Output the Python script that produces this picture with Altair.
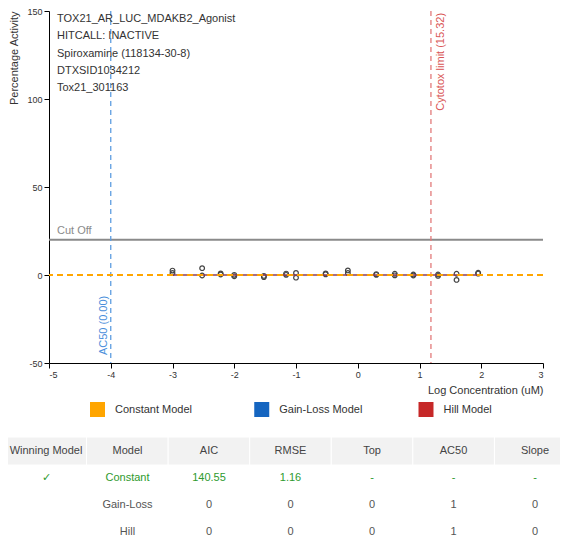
import math
import altair as alt
import pandas as pd

FONT = "Liberation Sans"

# ---------------- data ----------------
conc_levels = [-3.0, -2.52, -2.22, -2.0, -1.52, -1.16, -1.0, -0.52, -0.16,
               0.30, 0.60, 0.90, 1.30, 1.60, 1.95]
resp_rep1 = [2.5, 3.9, 0.9, 0.1, -0.5, 0.8, 1.2, 0.9, 2.6, 0.5, 0.7, 0.3, 0.3, 0.7, 1.3]
resp_rep2 = [1.1, -0.3, 0.3, -0.7, -1.2, 0.1, -1.5, 0.4, 1.1, 0.1, -0.2, -0.3, -0.5, -2.8, 0.8]

cutoff = 20
ac50_log = -4.0
cytotox_limit = 15.32
constant_level = 0.0

info_lines = ["TOX21_AR_LUC_MDAKB2_Agonist", "HITCALL: INACTIVE",
              "Spiroxamine (118134-30-8)", "DTXSID1034212", "Tox21_301163"]

legend_models = ["Constant Model", "Gain-Loss Model", "Hill Model"]
legend_colors = ["#FFA500", "#1565C0", "#C62828"]

table_columns = ["Winning Model", "Model", "AIC", "RMSE", "Top", "AC50", "Slope"]
table_rows = ["header", "Constant", "Gain-Loss", "Hill"]
row_constant = ["\u2713", "Constant", "140.55", "1.16", "-", "-", "-"]
row_gainloss = ["", "Gain-Loss", "0", "0", "0", "1", "0"]
row_hill = ["", "Hill", "0", "0", "0", "1", "0"]

# ---------------- tables ----------------
pts = pd.DataFrame({
    "conc": conc_levels + conc_levels,
    "resp": resp_rep1 + resp_rep2,
})
flat = pd.DataFrame({
    "conc": [min(conc_levels), max(conc_levels)] * 2,
    "resp": [0.0] * 4,
    "model": ["Gain-Loss", "Gain-Loss", "Hill", "Hill"],
})
one = alt.Data(values=[{}])

cells = []
for c in table_columns:
    cells.append({"col": c, "row": "header", "text": c, "tone": "header"})
for rname, vals, tone in [("Constant", row_constant, "win"),
                          ("Gain-Loss", row_gainloss, "other"),
                          ("Hill", row_hill, "other")]:
    for c, v in zip(table_columns, vals):
        cells.append({"col": c, "row": rname, "text": v, "tone": tone})
cells = pd.DataFrame(cells)

# ---------------- main plot ----------------
XS = alt.Scale(domain=[-5, 3], nice=False, zero=False)
YS = alt.Scale(domain=[-50, 150], nice=False, zero=False)
common_axis = dict(grid=False, tickSize=5, labelFontSize=9, titleFontSize=11,
                   titleFontWeight="normal", labelColor="#333", titleColor="#333",
                   domainColor="#000", tickColor="#000", labelFont=FONT,
                   titleFont=FONT, labelExpr="'' + datum.value")
x_axis = alt.Axis(values=list(range(-5, 4)), title="Log Concentration (uM)",
                  titleAnchor="end", titlePadding=5, **common_axis)
y_axis = alt.Axis(values=[-50, 0, 50, 100, 150], title="Percentage Activity",
                  titleAnchor="end", titlePadding=7, **common_axis)

X = alt.X("conc:Q", scale=XS, axis=x_axis, title="Log Concentration (uM)")
Y = alt.Y("resp:Q", scale=YS, axis=y_axis, title="Percentage Activity")

cut_rule = alt.Chart(one).mark_rule(color="#8a8a8a", strokeWidth=2).encode(
    y=alt.datum(cutoff, scale=YS))
cut_text = alt.Chart(one).mark_text(align="left", baseline="bottom", dx=8, dy=-4,
                                    fontSize=11, color="#8a8a8a", font=FONT).encode(
    x=alt.datum(-5), y=alt.datum(cutoff), text=alt.value("Cut Off"))

const_rule = alt.Chart(one).mark_rule(color="#FFA500", strokeWidth=2,
                                      strokeDash=[6, 4]).encode(
    y=alt.datum(constant_level))

ac50_rule = alt.Chart(one).mark_rule(color="#5e9de0", strokeWidth=1.3,
                                     strokeDash=[5, 4]).encode(x=alt.datum(ac50_log))
ac50_text = alt.Chart(one).mark_text(angle=270, align="left", baseline="bottom",
                                     dy=-2, fontSize=11, color="#4a8fdb",
                                     font=FONT).encode(
    x=alt.datum(ac50_log), y=alt.datum(-45.5), text=alt.value("AC50 (0.00)"))

cyto_x = math.log10(cytotox_limit)
cyto_rule = alt.Chart(one).mark_rule(color="#e27a7a", strokeWidth=1.3,
                                     strokeDash=[5, 4]).encode(x=alt.datum(cyto_x))
cyto_text = alt.Chart(one).mark_text(angle=270, align="right", baseline="top",
                                     dy=4, fontSize=11, color="#d95555",
                                     font=FONT).encode(
    x=alt.datum(cyto_x), y=alt.datum(148.9),
    text=alt.value(f"Cytotox limit ({cytotox_limit:.2f})"))

flat_lines = alt.Chart(flat).mark_line(strokeWidth=2, opacity=0.5).encode(
    x=X, y=Y, detail="model:N",
    color=alt.Color("model:N", scale=alt.Scale(domain=["Gain-Loss", "Hill"],
                                               range=["#1565C0", "#C62828"]),
                    legend=None))

points = alt.Chart(pts).mark_point(shape="circle", filled=False, size=22,
                                   color="#444", strokeWidth=1.2, opacity=1).encode(
    x=X, y=Y)

main = alt.layer(points, cut_rule, cut_text, ac50_rule, ac50_text,
                 cyto_rule, cyto_text, flat_lines, const_rule)

# ---------------- info text ----------------
info = alt.Chart(pd.DataFrame({"line": info_lines})).mark_text(
    align="left", baseline="middle", fontSize=11, color="#333", font=FONT).encode(
    x=alt.value(8),
    y=alt.Y("line:N", sort=info_lines, scale=alt.Scale(range=[8, 77.3], padding=0),
            axis=None),
    text="line:N")

# ---------------- legend ----------------
leg_df = pd.DataFrame({"model": legend_models})
LX = alt.X("model:N", sort=legend_models, scale=alt.Scale(range=[48.5, 377], padding=0),
           axis=None)
LC = alt.Color("model:N", scale=alt.Scale(domain=legend_models, range=legend_colors),
               legend=None)
leg_sq = alt.Chart(leg_df).mark_square(size=225, opacity=1).encode(
    x=LX, y=alt.value(398.5), color=LC)
leg_tx = alt.Chart(leg_df).mark_text(align="left", baseline="middle", dx=17.5,
                                     fontSize=11, color="#333", font=FONT).encode(
    x=LX, y=alt.value(398.5), text="model:N")
legend = alt.layer(leg_sq, leg_tx)

# ---------------- table ----------------
hdr_df = pd.DataFrame({"col": table_columns})
hdr_bg = alt.Chart(hdr_df).mark_rect(color="#f2f2f2", stroke="#ffffff",
                                     strokeWidth=1).encode(
    x=alt.X("col:N", sort=table_columns,
            scale=alt.Scale(type="band", range=[-44, 527], paddingInner=0,
                            paddingOuter=0),
            axis=None),
    y=alt.value(426), y2=alt.value(454))
tbl = alt.Chart(cells).mark_text(baseline="middle", align="center", fontSize=11,
                                 font=FONT).encode(
    x=alt.X("col:N", sort=table_columns, scale=alt.Scale(range=[-3, 486], padding=0),
            axis=None),
    y=alt.Y("row:N", sort=table_rows, scale=alt.Scale(range=[440, 521], padding=0),
            axis=None),
    text="text:N",
    color=alt.Color("tone:N", scale=alt.Scale(domain=["header", "win", "other"],
                                              range=["#444", "#2e9a2e", "#555"]),
                    legend=None))

chart = alt.layer(main, info, legend, hdr_bg, tbl).resolve_scale(
    x="independent", y="independent", color="independent"
).properties(
    width=494, height=352,
    autosize=alt.AutoSizeParams(type="none"),
    padding={"left": 41, "top": 3, "right": 17, "bottom": 174},
).configure_view(stroke=None)

chart.save("out.html", embed_options={"renderer": "svg", "actions": False})
